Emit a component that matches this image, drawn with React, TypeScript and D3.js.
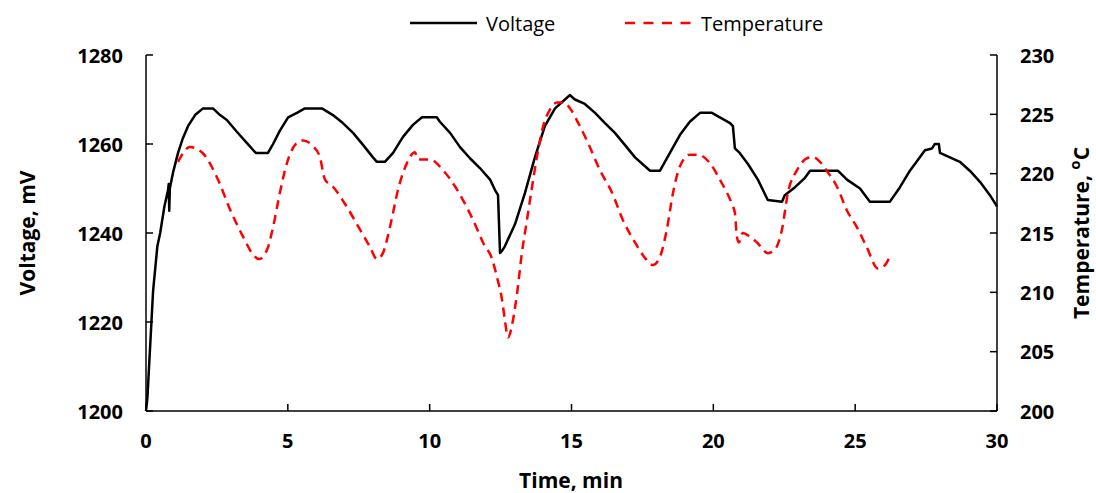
import React from "react";
import * as d3 from "d3";

const voltTime = [0,0.05,0.15,0.25,0.4,0.5,0.65,0.78,0.8,0.82,0.84,0.95,1.13,1.3,1.48,1.73,2.01,2.36,2.61,2.85,3.21,3.56,3.84,3.88,4.3,4.48,4.72,5.01,5.32,5.6,6.2,6.59,6.94,7.3,7.65,8.0,8.14,8.42,8.71,9.06,9.41,9.73,10.25,10.36,10.72,11.07,11.42,11.77,12.13,12.3,12.41,12.48,12.55,12.65,13.01,13.36,13.71,14.06,14.42,14.77,14.94,15.12,15.47,15.83,16.18,16.53,16.88,17.24,17.59,17.77,18.12,18.47,18.82,19.17,19.53,19.95,20.23,20.59,20.69,20.76,20.93,21.22,21.57,21.92,22.42,22.52,22.88,23.23,23.41,24.39,24.71,25.17,25.52,26.22,26.58,26.93,27.28,27.46,27.71,27.81,27.95,27.99,28.34,28.69,29.04,29.4,29.75,30];
const voltValue = [1200,1203,1215,1227,1237,1240,1246,1249.7,1251,1245,1250,1253.5,1258,1261.3,1264,1266.5,1268,1268,1266.5,1265.4,1262.7,1260.2,1258.2,1258,1258,1260,1263,1266,1267,1268,1268,1266.5,1264.7,1262.5,1259.8,1257,1256,1256,1258,1261.6,1264.3,1266,1266,1265,1262.5,1259.3,1256.8,1254.6,1252,1249.7,1248.5,1235.5,1236,1237,1242,1249,1257,1264,1268,1270,1271,1270,1269,1267,1264.7,1262.5,1259.8,1257,1255,1254,1254,1258,1262,1265,1267,1267,1266,1264.7,1264,1259,1258,1255.5,1252,1247.4,1247,1248.5,1250.3,1252.4,1254,1254,1252,1250,1247,1247,1250.3,1254,1257,1258.6,1259,1260,1260,1258,1257,1256,1254,1251.5,1248.5,1246];

const tempTime = [1.13,1.55,2.01,2.5,2.96,3.42,3.77,3.98,4.27,4.48,4.72,4.97,5.32,5.53,5.89,6.13,6.31,6.59,7.08,7.54,7.9,8.14,8.35,8.6,8.88,9.2,9.48,9.59,10.01,10.47,10.82,11.17,11.53,11.88,12.23,12.37,12.55,12.65,12.76,12.94,13.08,13.25,13.43,13.61,13.78,13.99,14.24,14.49,14.7,14.95,15.23,15.58,16.0,16.43,16.81,17.24,17.59,17.87,18.12,18.36,18.58,18.82,19.17,19.45,19.88,20.23,20.66,20.76,20.83,20.9,21.04,21.22,21.54,21.92,22.17,22.42,22.63,22.95,23.3,23.51,23.76,24.04,24.36,24.71,25.06,25.41,25.8,26.05,26.22];
const tempValue = [221,222.25,221.7,219.7,217,214.7,213.2,212.8,213.6,215.5,218.4,220.9,222.6,222.8,222.3,221.4,219.5,218.9,217.2,215.3,213.8,212.8,213.3,215.5,218.6,220.9,221.8,221.2,221.2,220.3,219.2,217.8,216.1,214.2,212.6,211.3,209.4,207.7,206.2,207.7,209.9,213.3,216.1,218.9,221.4,223.9,225.4,226,226,225.5,224.3,222.6,220.3,218.4,216.1,214.2,212.9,212.3,213,215.3,218.4,220.6,221.6,221.6,220.9,219.5,217.4,216.7,214.7,214.2,215,214.8,214.2,213.3,213.6,215.3,218.4,220.3,221.3,221.4,221,220.1,218.9,216.9,215.5,213.8,212,212.3,213];

const xTicks = [0, 5, 10, 15, 20, 25, 30];
const voltTicks = [1200, 1220, 1240, 1260, 1280];
const tempTicks = [200, 205, 210, 215, 220, 225, 230];

const W = 1096, H = 493;
const L = 146, R = 997, T = 55, B = 411;
const FONT = "'Open Sans', Lato, sans-serif";

export default function App() {
  const x = d3.scaleLinear().domain([0, 30]).range([L, R]);
  const yV = d3.scaleLinear().domain([1200, 1280]).range([B, T]);
  const yT = d3.scaleLinear().domain([200, 230]).range([B, T]);

  const vData = voltTime.map((t, i) => [t, voltValue[i]] as [number, number]);
  const tData = tempTime.map((t, i) => [t, tempValue[i]] as [number, number]);

  const vLine = d3.line<[number, number]>().x(d => x(d[0])).y(d => yV(d[1]));
  const tLine = d3.line<[number, number]>().x(d => x(d[0])).y(d => yT(d[1])).curve(d3.curveMonotoneX);

  const tick = 7;
  return (
    <svg width={W} height={H} style={{ position: "absolute", left: 0, top: 0, background: "#fff" }} fontFamily={FONT}>
      <rect x={0} y={0} width={W} height={H} fill="#fff" />
      {/* axes */}
      <g stroke="#000" strokeWidth={1.5} fill="none">
        <line x1={L} y1={T} x2={L} y2={B} />
        <line x1={R} y1={T} x2={R} y2={B} />
        <line x1={L} y1={B} x2={R} y2={B} />
        {voltTicks.map(v => <line key={"lv" + v} x1={L} x2={L + tick} y1={yV(v)} y2={yV(v)} />)}
        {tempTicks.map(v => <line key={"rt" + v} x1={R} x2={R - tick} y1={yT(v)} y2={yT(v)} />)}
        {xTicks.map(v => <line key={"xt" + v} x1={x(v)} x2={x(v)} y1={B} y2={B - tick} />)}
      </g>
      {/* tick labels */}
      <g fontSize={20} fontWeight="bold" fill="#000">
        {voltTicks.map(v => (
          <text key={"lvl" + v} x={L - 23} y={yV(v)} textAnchor="end" dominantBaseline="central">{v}</text>
        ))}
        {tempTicks.map(v => (
          <text key={"rtl" + v} x={R + 23} y={yT(v)} textAnchor="start" dominantBaseline="central">{v}</text>
        ))}
        {xTicks.map(v => (
          <text key={"xtl" + v} x={x(v)} y={B + 29} textAnchor="middle" dominantBaseline="central">{v}</text>
        ))}
      </g>
      {/* axis titles */}
      <g fontSize={21} fontWeight="bold" fill="#000">
        <text x={571} y={480} textAnchor="middle" dominantBaseline="central">Time, min</text>
        <text transform={`translate(27,${(T + B) / 2}) rotate(-90)`} textAnchor="middle" dominantBaseline="central">Voltage, mV</text>
        <text transform={`translate(1081,${(T + B) / 2}) rotate(-90)`} textAnchor="middle" dominantBaseline="central">
          Temperature, <tspan fontSize={15} dy={-7}>o</tspan><tspan dy={7}>C</tspan>
        </text>
      </g>
      {/* series */}
      <path d={vLine(vData) || ""} fill="none" stroke="#000" strokeWidth={2.5} strokeLinejoin="round" />
      <path d={tLine(tData) || ""} fill="none" stroke="#ff0000" strokeWidth={2.5} strokeDasharray="9,6" />
      {/* legend */}
      <g>
        <line x1={410} x2={477} y1={23} y2={23} stroke="#000" strokeWidth={2.5} />
        <text x={486} y={23} fontSize={20} dominantBaseline="central" fill="#000">Voltage</text>
        <line x1={625} x2={691} y1={23} y2={23} stroke="#ff0000" strokeWidth={2.5} strokeDasharray="10,8.5" />
        <text x={701} y={23} fontSize={20} dominantBaseline="central" fill="#000">Temperature</text>
      </g>
    </svg>
  );
}
